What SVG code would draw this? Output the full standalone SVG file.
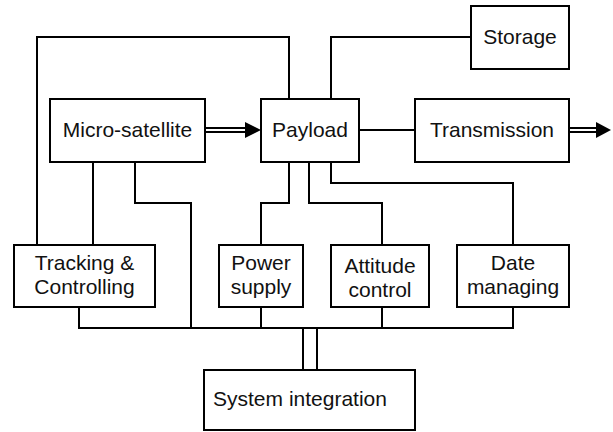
<svg xmlns="http://www.w3.org/2000/svg" width="613" height="432" viewBox="0 0 613 432">
<style>
.box{fill:#fff;stroke:#000;stroke-width:2}
.t{font-family:"Liberation Sans",Arial,sans-serif;font-size:21px;fill:#111;text-anchor:middle}
.w{fill:none;stroke:#000;stroke-width:2}
.dbl{fill:none;stroke:#000;stroke-width:6}
.dblin{fill:none;stroke:#fff;stroke-width:2}
</style>
<rect width="613" height="432" fill="#fff"/>
<g id="connectors">
<polyline class="w" points="37,245 37,37 289,37 289,99"/>
<polyline class="w" points="471,37 331,37 331,99"/>
<line class="w" x1="359" y1="130" x2="415" y2="130"/>
<line class="w" x1="93" y1="162" x2="93" y2="245"/>
<polyline class="w" points="135,162 135,203 191,203 191,328"/>
<polyline class="w" points="289,162 289,203 261,203 261,245"/>
<polyline class="w" points="309,162 309,203 382,203 382,245"/>
<polyline class="w" points="331,162 331,183 513,183 513,245"/>
<polyline class="w" points="79,307 79,328 513,328 513,307"/>
<line class="w" x1="261" y1="307" x2="261" y2="328"/>
<line class="w" x1="382" y1="307" x2="382" y2="328"/>
<line class="w" x1="303" y1="328" x2="303" y2="370"/>
<line class="w" x1="317" y1="328" x2="317" y2="370"/>
<line class="dbl" x1="206" y1="130" x2="247" y2="130"/>
<line class="dblin" x1="205" y1="130" x2="248" y2="130"/>
<polygon points="245,122 261,130 245,138" fill="#000"/>
<line class="dbl" x1="570" y1="130" x2="598" y2="130"/>
<line class="dblin" x1="569" y1="130" x2="599" y2="130"/>
<polygon points="596,122 611,130 596,138" fill="#000"/>
</g>
<g id="micro-satellite"><rect class="box" x="50" y="99" width="155" height="63"/><text class="t" x="127.5" y="137">Micro-satellite</text></g>
<g id="payload"><rect class="box" x="261" y="99" width="98" height="63"/><text class="t" x="310" y="137">Payload</text></g>
<g id="storage"><rect class="box" x="471" y="6" width="98" height="63"/><text class="t" x="520" y="44">Storage</text></g>
<g id="transmission"><rect class="box" x="415" y="99" width="154" height="63"/><text class="t" x="492" y="137">Transmission</text></g>
<g id="tracking"><rect class="box" x="14" y="245" width="141" height="62"/><text class="t" x="84.5" y="270">Tracking &amp;</text><text class="t" x="84.5" y="294">Controlling</text></g>
<g id="power"><rect class="box" x="219" y="245" width="84" height="62"/><text class="t" x="261" y="270">Power</text><text class="t" x="261" y="294">supply</text></g>
<g id="attitude"><rect class="box" x="331" y="245" width="98" height="62"/><text class="t" x="380" y="273">Attitude</text><text class="t" x="380" y="297">control</text></g>
<g id="date"><rect class="box" x="457" y="245" width="112" height="62"/><text class="t" x="513" y="270">Date</text><text class="t" x="513" y="294">managing</text></g>
<g id="system-integration"><rect class="box" x="204" y="370" width="211" height="60"/><text class="t" x="300" y="406">System integration</text></g>
</svg>
